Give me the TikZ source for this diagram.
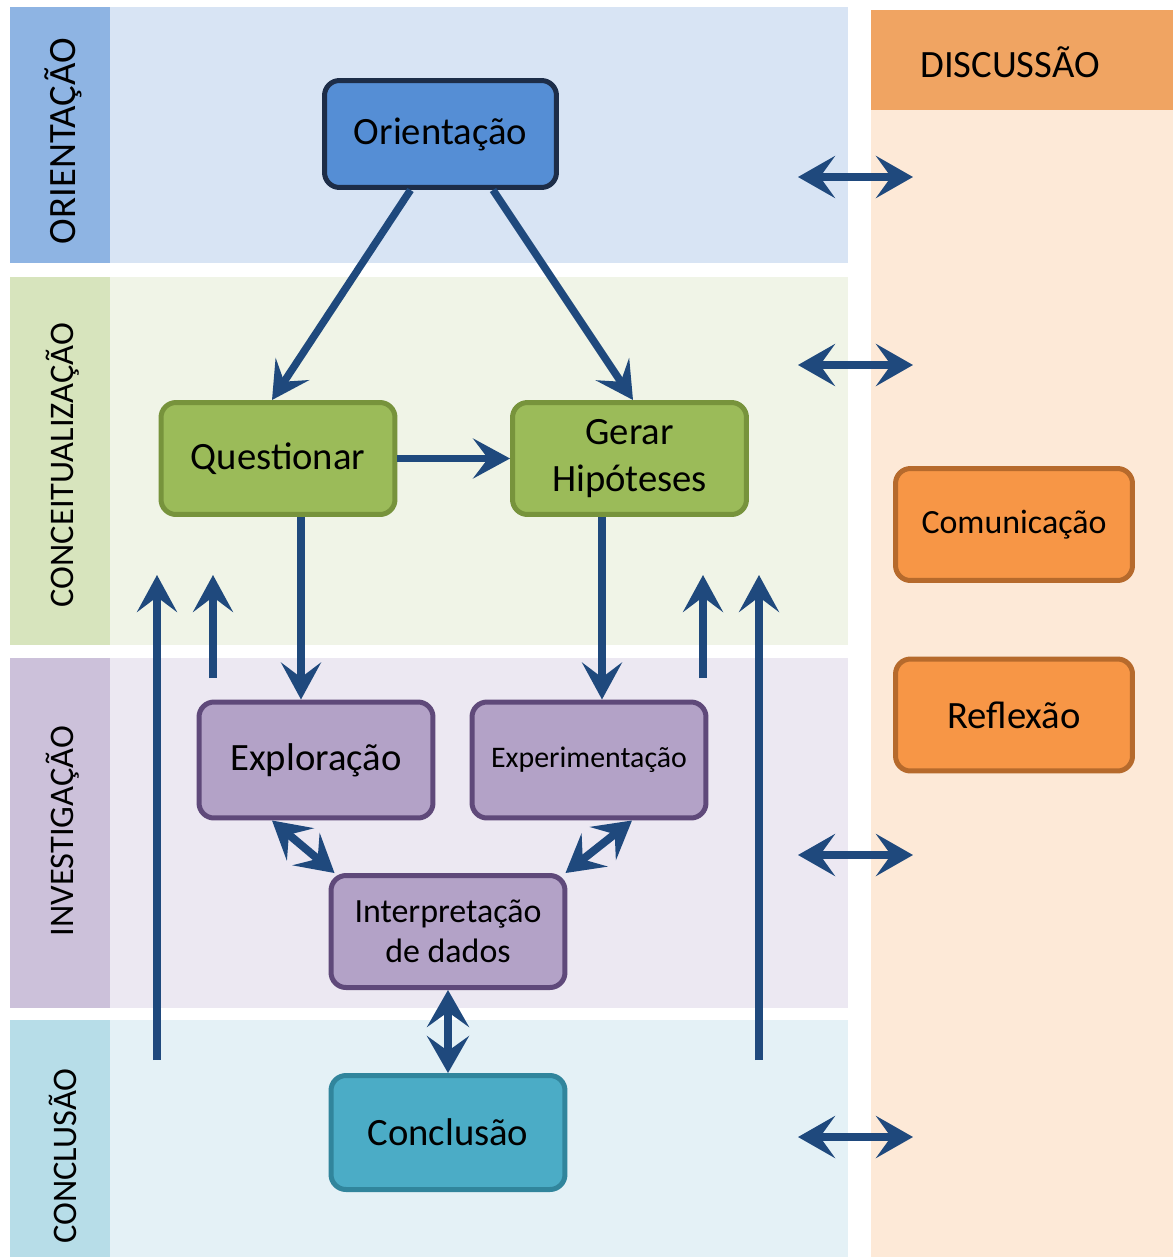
\documentclass[tikz,border=0pt]{standalone}
\usepackage{fontspec}
\setmainfont{Carlito}
\usepackage{tikz}
\usetikzlibrary{arrows.meta}

\definecolor{oriLab}{HTML}{8EB4E3}
\definecolor{oriBg}{HTML}{D8E4F4}
\definecolor{conLab}{HTML}{D7E4BD}
\definecolor{conBg}{HTML}{F0F4E7}
\definecolor{invLab}{HTML}{CCC1DA}
\definecolor{invBg}{HTML}{ECE8F2}
\definecolor{cloLab}{HTML}{B7DDE8}
\definecolor{cloBg}{HTML}{E4F1F6}
\definecolor{disHead}{HTML}{F0A462}
\definecolor{disBg}{HTML}{FDE9D7}
\definecolor{flowBlue}{HTML}{1F497D}
\definecolor{oriFill}{HTML}{558ED5}
\definecolor{oriLine}{HTML}{1D2D48}
\definecolor{greenFill}{HTML}{9BBB59}
\definecolor{greenLine}{HTML}{77933C}
\definecolor{purpleFill}{HTML}{B3A2C7}
\definecolor{purpleLine}{HTML}{5F497A}
\definecolor{tealFill}{HTML}{4BACC6}
\definecolor{tealLine}{HTML}{31859C}
\definecolor{orangeFill}{HTML}{F79646}
\definecolor{orangeLine}{HTML}{B66A2C}

\begin{document}
\begin{tikzpicture}[x=0.02cm, y=-0.02cm,
  box node/.style={draw, rounded corners=0.3cm, line width=0.1cm, minimum width=4.68cm, minimum height=2.24cm, align=center, font=\fontsize{22}{27}\selectfont},
  blue node/.style={box node, fill=oriFill, draw=oriLine, minimum width=4.64cm, minimum height=2.14cm},
  green node/.style={box node, fill=greenFill, draw=greenLine},
  purple node/.style={box node, fill=purpleFill, draw=purpleLine, minimum height=2.32cm},
  teal node/.style={box node, fill=tealFill, draw=tealLine, minimum height=2.28cm},
  orange node/.style={box node, fill=orangeFill, draw=orangeLine, minimum width=4.74cm},
  band label/.style={rotate=90, font=\fontsize{19.6}{24}\selectfont},
  flow/.style={draw=flowBlue, line width=0.15cm, -{Stealth[length=0.74cm, width=0.8cm, inset=0.3cm]}},
  both flow/.style={draw=flowBlue, line width=0.16cm, {Stealth[length=0.74cm, width=0.84cm, inset=0.3cm]}-{Stealth[length=0.74cm, width=0.84cm, inset=0.3cm]}}
]
\useasboundingbox (0,0) rectangle (1173,1257);
\fill[white] (0,0) rectangle (1173,1257);

% bands
\fill[oriLab] (10,7) rectangle (110,263);
\fill[oriBg] (110,7) rectangle (848,263);
\fill[conLab] (10,277) rectangle (110,645);
\fill[conBg] (110,277) rectangle (848,645);
\fill[invLab] (10,658) rectangle (110,1008);
\fill[invBg] (110,658) rectangle (848,1008);
\fill[cloLab] (10,1020) rectangle (110,1257);
\fill[cloBg] (110,1020) rectangle (848,1257);
\fill[disBg] (871,10) rectangle (1173,1257);
\fill[disHead] (871,10) rectangle (1173,110);

\node[band label, font=\fontsize{22}{26}\selectfont] (lori) at (63,141) {ORIENTAÇÃO};
\node[band label] (lcon) at (63,465) {CONCEITUALIZAÇÃO};
\node[band label] (linv) at (63,831) {INVESTIGAÇÃO};
\node[band label] (lclo) at (63,1156) {CONCLUSÃO};
\node[font=\fontsize{22}{26}\selectfont] (ldis) at (1010,62) {DISCUSSÃO};

% phases
\node[blue node]   (ori)    at (440.5,134)   {Orientação};
\node[green node]  (qst)    at (278,458.5)   {Questionar};
\node[green node]  (hip)    at (629.5,458.5) {Gerar\\Hipóteses};
\node[purple node] (exp)    at (316,760)     {Exploração};
\node[purple node, font=\fontsize{17}{20}\selectfont] (expm) at (589,760) {Experimentação};
\node[purple node, minimum height=2.24cm, font=\fontsize{19.3}{23}\selectfont] (interp) at (448,931.5) {Interpretação\\de dados};
\node[teal node]   (concl)  at (448,1132.5)  {Conclusão};
\node[orange node, font=\fontsize{19.3}{23}\selectfont] (com) at (1014,524.5) {Comunicação};
\node[orange node] (ref)    at (1014,715)    {Reflexão};

% loose ends
\coordinate (upA) at (157,1060); \coordinate (upAe) at (157,575);
\coordinate (upB) at (213,678);  \coordinate (upBe) at (213,575);
\coordinate (upC) at (703,678);  \coordinate (upCe) at (703,575);
\coordinate (upD) at (759,1060); \coordinate (upDe) at (759,575);

\draw[flow] ([xshift=-0.6cm]ori.south) -- ([xshift=-0.12cm]qst.north);
\draw[flow] ([xshift=1.05cm]ori.south) -- ([xshift=0.07cm]hip.north);
\draw[flow] (qst.east) -- (hip.west);
\draw[flow] ([xshift=0.46cm]qst.south) -- ([xshift=0.46cm]qst.south |- exp.north);
\draw[flow] ([xshift=-0.55cm]hip.south) -- ([xshift=-0.55cm]hip.south |- expm.north);
\foreach \s in {A,B,C,D}
  \draw[flow] (up\s) -- (up\s e);

\draw[both flow] ([xshift=-0.88cm]exp.south) -- ([xshift=0.12cm]interp.north west);
\draw[both flow] ([xshift=0.86cm]expm.south) -- ([xshift=-0.04cm]interp.north east);
\draw[both flow] (interp.south) -- (concl.north);

\foreach \y [count=\i] in {177,365,855,1137} {
  \coordinate (dl\i) at (798,\y);
  \coordinate (dr\i) at (913,\y);
  \draw[both flow, line width=0.17cm] (dl\i) -- (dr\i);
}
\end{tikzpicture}
\end{document}
